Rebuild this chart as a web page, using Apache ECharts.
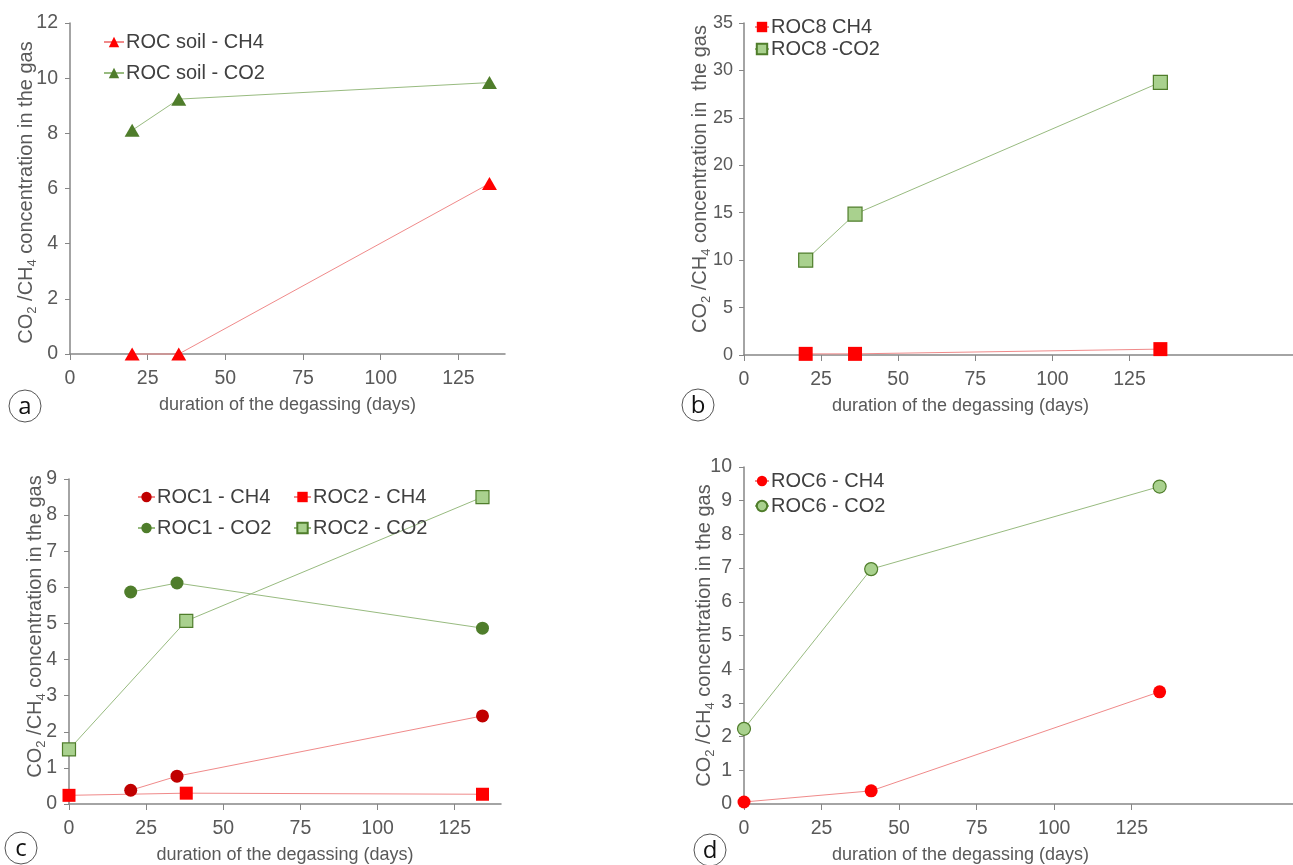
<!DOCTYPE html>
<html>
<head>
<meta charset="utf-8">
<title>CO2 / CH4 degassing</title>
<script src="https://cdn.jsdelivr.net/npm/echarts@6/dist/echarts.min.js"></script>
<style>
    html, body { margin: 0; padding: 0; background: #fff; }
    #main { width: 1293px; height: 865px; }
</style>
</head>
<body>
<div id="main"></div>
<script>
// values: [days, concentration]
var soilCH4 = [[20, 0], [35, 0], [135, 6.18]];
var soilCO2 = [[20, 8.11], [35, 9.24], [135, 9.84]];

var roc8CH4 = [[20, 0.12], [36, 0.12], [135, 0.62]];
var roc8CO2 = [[20, 10.0], [36, 14.85], [135, 28.75]];

var roc1CH4 = [[20, 0.38], [35, 0.77], [134, 2.44]];
var roc2CH4 = [[0, 0.24], [38, 0.30], [134, 0.27]];
var roc1CO2 = [[20, 5.87], [35, 6.12], [134, 4.87]];
var roc2CO2 = [[0, 1.51], [38, 5.07], [134, 8.5]];

var roc6CH4 = [[0, 0.06], [41, 0.39], [134, 3.33]];
var roc6CO2 = [[0, 2.23], [41, 6.97], [134, 9.42]];

var dayTicks = [0, 25, 50, 75, 100, 125];
var panelLetters = ['a', 'b', 'c', 'd'];

var FONT = '"Liberation Sans", Arial, sans-serif';
var TXT = '#595959';
var AXIS = '#868686';

var RED = '#ff0000', DARKRED = '#c00000', REDLINE = '#f08a8a';
var DARKGREEN = '#4f7d2b', LIGHTGREEN = '#a9d18e', GREENLINE = '#98bb80';

// grid boxes (px), one per panel
var grids = [
    { left: 70, top: 23, width: 435, height: 331 },
    { left: 744, top: 23, width: 549, height: 332 },
    { left: 69, top: 479, width: 432, height: 325 },
    { left: 744, top: 467, width: 549, height: 337 }
];
var xMax = [140, 178, 140, 177];
var yMax = [12, 35, 9, 10];
var yStep = [2, 5, 1, 1];
var yNames = [
    '{t|CO}{s|2}{t| /CH}{s|4}{t| concentration in the gas}',
    '{t|CO}{s|2}{t| /CH}{s|4}{t| concentration in  the gas}',
    '{t|CO}{s|2}{t| /CH}{s|4}{t| concentration in the gas}',
    '{t|CO}{s|2}{t| /CH}{s|4}{t| concentration in the gas}'
];
var yNameGap = [31, 31, 21, 27];
var yNamePad = [[0, 8, 0, 0], [0, 0, 0, 20], [0, 0, 0, 30], [0, 0, 0, 0]];
var yLabelSize = [19.5, 18, 19.5, 19.5];
var xNamePad = [0, 116, 0, 116];

function xAxisFor(i) {
    return {
        type: 'value', gridIndex: i, min: 0, max: xMax[i],
        name: 'duration of the degassing (days)',
        nameLocation: 'middle', nameGap: 42,
        nameTextStyle: { fontFamily: FONT, fontSize: 18, color: TXT, padding: [0, xNamePad[i], 0, 0] },
        axisLine: { show: true, onZero: false, lineStyle: { color: AXIS, width: 1.5 } },
        axisTick: { show: true, length: 6, customValues: dayTicks, lineStyle: { color: AXIS } },
        axisLabel: { customValues: dayTicks, margin: 15, fontFamily: FONT, fontSize: 19.5, color: TXT },
        splitLine: { show: false }
    };
}

function yAxisFor(i) {
    return {
        type: 'value', gridIndex: i, min: 0, max: yMax[i], interval: yStep[i],
        name: yNames[i], nameLocation: 'middle', nameRotate: 90, nameGap: yNameGap[i],
        nameMoveOverlap: false,
        nameTextStyle: {
            fontFamily: FONT, color: TXT, padding: yNamePad[i],
            rich: {
                t: { fontFamily: FONT, fontSize: 20, color: TXT, lineHeight: 26, verticalAlign: 'middle' },
                s: { fontFamily: FONT, fontSize: 13, color: TXT, lineHeight: 13, verticalAlign: 'bottom' }
            }
        },
        axisLine: { show: true, lineStyle: { color: AXIS, width: 1.5 } },
        axisTick: { show: true, length: 5, lineStyle: { color: AXIS } },
        axisLabel: { margin: i === 1 ? 11 : 12, fontFamily: FONT, fontSize: yLabelSize[i], color: TXT },
        splitLine: { show: false }
    };
}

function line(name, i, data, symbol, size, fill, border, lineColor) {
    return {
        name: name, type: 'line', xAxisIndex: i, yAxisIndex: i, data: data,
        symbol: symbol, symbolSize: size, showAllSymbol: true, clip: false,
        itemStyle: { color: fill, borderColor: border, borderWidth: border === fill ? 0 : 1.2 },
        lineStyle: { color: lineColor, width: 1 },
        emphasis: { disabled: true }
    };
}

function legend(left, top, names, gap, iconW) {
    return {
        left: left, top: top, orient: 'vertical', data: names,
        itemWidth: iconW, itemHeight: 13, itemGap: gap, padding: 0,
        selectedMode: false,
        textStyle: { fontFamily: FONT, fontSize: 20, color: '#404040', padding: [0, 0, 0, -3] }
    };
}

// circled panel letters
var letterPos = [[25, 406], [698, 405], [21, 848], [710, 850]];
var graphics = [];
panelLetters.forEach(function (l, i) {
    graphics.push({
        type: 'circle', shape: { cx: letterPos[i][0], cy: letterPos[i][1], r: 16 },
        style: { fill: '#fff', stroke: '#555', lineWidth: 1 }, z: 10
    });
    graphics.push({
        type: 'text', x: letterPos[i][0], y: letterPos[i][1] + 1, z: 11,
        style: { text: l, fontFamily: '"Open Sans", sans-serif', fontSize: 24, fill: '#111', align: 'center', verticalAlign: 'middle' }
    });
});

let option = {
    animation: false,
    backgroundColor: '#fff',
    grid: grids.map(function (g) {
        return Object.assign({ containLabel: false, outerBoundsMode: 'none' }, g);
    }),
    xAxis: [0, 1, 2, 3].map(xAxisFor),
    yAxis: [0, 1, 2, 3].map(yAxisFor),
    legend: [
        legend(103, 32, ['ROC soil - CH4', 'ROC soil - CO2'], 11, 20),
        legend(754, 17, ['ROC8 CH4', 'ROC8 -CO2'], 2, 14),
        legend(137, 487, ['ROC1 - CH4', 'ROC1 - CO2'], 11, 17),
        legend(293, 487, ['ROC2 - CH4', 'ROC2 - CO2'], 11, 17),
        legend(754, 471, ['ROC6 - CH4', 'ROC6 - CO2'], 5, 14)
    ],
    series: [
        line('ROC soil - CH4', 0, soilCH4, 'triangle', [15, 13], RED, RED, REDLINE),
        line('ROC soil - CO2', 0, soilCO2, 'triangle', [15, 13], DARKGREEN, DARKGREEN, GREENLINE),
        line('ROC8 CH4', 1, roc8CH4, 'rect', 14, RED, RED, REDLINE),
        line('ROC8 -CO2', 1, roc8CO2, 'rect', 14, LIGHTGREEN, DARKGREEN, GREENLINE),
        line('ROC1 - CH4', 2, roc1CH4, 'circle', 13, DARKRED, DARKRED, REDLINE),
        line('ROC2 - CH4', 2, roc2CH4, 'rect', 13, RED, RED, REDLINE),
        line('ROC1 - CO2', 2, roc1CO2, 'circle', 13, DARKGREEN, DARKGREEN, GREENLINE),
        line('ROC2 - CO2', 2, roc2CO2, 'rect', 13, LIGHTGREEN, DARKGREEN, GREENLINE),
        line('ROC6 - CH4', 3, roc6CH4, 'circle', 13, RED, RED, REDLINE),
        line('ROC6 - CO2', 3, roc6CO2, 'circle', 13, LIGHTGREEN, DARKGREEN, GREENLINE)
    ],
    graphic: graphics
};

let chart = echarts.init(document.getElementById('main'));
chart.setOption(option);
</script>
</body>
</html>
